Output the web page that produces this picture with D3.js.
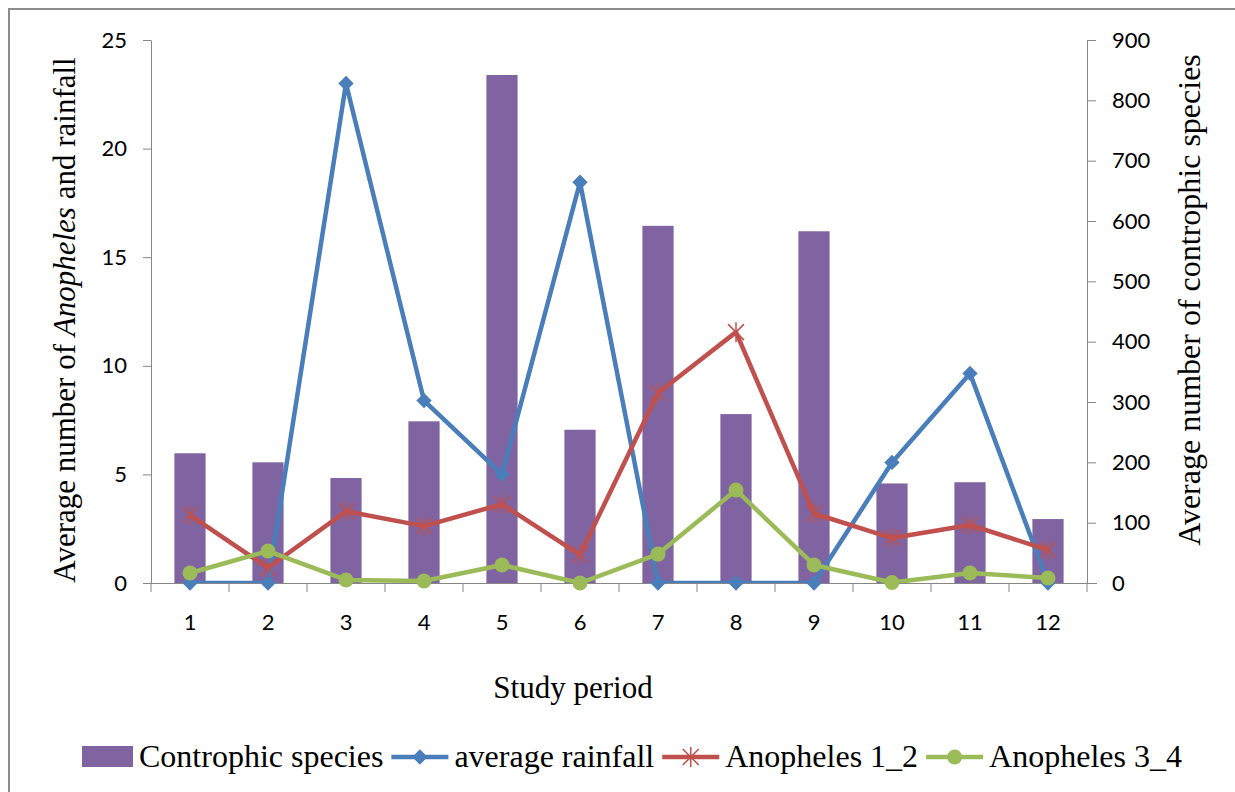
<!DOCTYPE html>
<html>
<head>
<meta charset="utf-8">
<script src="https://cdn.jsdelivr.net/npm/d3@7"></script>
<style>
  body { margin: 0; background: #fff; }
  svg { display: block; }
</style>
</head>
<body>
<script>
// study periods and series values
const periods = ["1", "2", "3", "4", "5", "6", "7", "8", "9", "10", "11", "12"];
const controphic = [215, 200, 174, 268, 842, 254, 592, 280, 583, 165, 167, 106];
const rainfall = [0, 0, 23.0, 8.4, 5.0, 18.45, 0, 0, 0, 5.55, 9.65, 0];
const anoph12 = [3.13, 0.7, 3.3, 2.62, 3.63, 1.3, 8.75, 11.55, 3.2, 2.07, 2.67, 1.52];
const anoph34 = [0.46, 1.47, 0.14, 0.09, 0.83, 0, 1.33, 4.28, 0.83, 0.02, 0.46, 0.23];
const leftTicks = [0, 5, 10, 15, 20, 25];
const rightTicks = [0, 100, 200, 300, 400, 500, 600, 700, 800, 900];

const W = 1235, H = 792;
const purple = "#8064a2", blue = "#4a7ebb", red = "#c0504d", green = "#9bbb59";
const axisCol = "#868686";
const sans = "Lato, 'Open Sans', sans-serif";
const serif = "Liberation Serif, Times New Roman, serif";

const svg = d3.select("body").append("svg")
    .attr("width", W)
    .attr("height", H);

// outer chart border
svg.append("rect")
    .attr("x", 9).attr("y", 9)
    .attr("width", W + 20).attr("height", H + 20)
    .attr("fill", "none")
    .attr("stroke", "#8c8c8c")
    .attr("stroke-width", 2);

const x = d3.scaleBand().domain(periods).range([151, 1087]);
const yL = d3.scaleLinear().domain([0, 25]).range([583, 40]);
const yR = d3.scaleLinear().domain([0, 900]).range([583, 40]);

svg.append("defs").append("clipPath").attr("id", "plot")
    .append("rect")
    .attr("x", x.range()[0]).attr("y", 0)
    .attr("width", x.range()[1] - x.range()[0])
    .attr("height", yL(0));

// bars on the right axis
const barW = x.bandwidth() * 0.4;
svg.append("g").selectAll("rect")
    .data(controphic)
    .enter()
    .append("rect")
    .attr("x", (d, i) => x(periods[i]) + (x.bandwidth() - barW) / 2)
    .attr("y", d => yR(d))
    .attr("width", barW)
    .attr("height", d => yR(0) - yR(d))
    .attr("fill", purple);

// axes
const gL = svg.append("g")
    .attr("transform", `translate(${x.range()[0]},0)`)
    .call(d3.axisLeft(yL).tickValues(leftTicks).tickSize(8).tickPadding(16).tickSizeOuter(0));
const gR = svg.append("g")
    .attr("transform", `translate(${x.range()[1]},0)`)
    .call(d3.axisRight(yR).tickValues(rightTicks).tickSize(9).tickPadding(16).tickSizeOuter(0));

const gX = svg.append("g")
    .attr("transform", `translate(0,${yL(0)})`)
    .call(d3.axisBottom(x).tickSize(0).tickPadding(31).tickSizeOuter(0));

// x boundary ticks
const bounds = periods.map(p => x(p)).concat([x.range()[1]]);
svg.append("g").selectAll("line")
    .data(bounds)
    .enter()
    .append("line")
    .attr("x1", d => d).attr("x2", d => d)
    .attr("y1", yL(0)).attr("y2", yL(0) + 9)
    .attr("stroke", axisCol);

[gL, gR, gX].forEach(g => {
    g.selectAll(".domain").attr("stroke", axisCol);
    g.selectAll(".tick line").attr("stroke", axisCol);
    g.selectAll("text")
        .attr("font-family", sans)
        .attr("font-size", 22)
        .attr("fill", "#000");
});
gX.select(".domain").attr("d", `M${x.range()[0]},0.5H${x.range()[1] + 10}`);

// line series
const line = d3.line()
    .x((d, i) => x(periods[i]) + x.bandwidth() / 2)
    .y(d => yL(d));

function addLine(vals, color) {
    svg.append("path")
        .datum(vals)
        .attr("d", line)
        .attr("fill", "none")
        .attr("stroke", color)
        .attr("stroke-width", 4.5)
        .attr("stroke-linejoin", "round")
        .attr("clip-path", "url(#plot)");
}

const cx = i => x(periods[i]) + x.bandwidth() / 2;
const diamond = d3.symbol(d3.symbolDiamond2, 150);

addLine(rainfall, blue);
svg.append("g").selectAll("path")
    .data(rainfall)
    .enter()
    .append("path")
    .attr("d", diamond)
    .attr("transform", (d, i) => `translate(${cx(i)},${yL(d)})`)
    .attr("fill", blue);

addLine(anoph12, red);
const star = "M-8,-8L8,8M-8,8L8,-8M0,-10L0,10";
svg.append("g").selectAll("path")
    .data(anoph12)
    .enter()
    .append("path")
    .attr("d", star)
    .attr("transform", (d, i) => `translate(${cx(i)},${yL(d)})`)
    .attr("stroke", red)
    .attr("stroke-width", 1.5)
    .attr("fill", "none");

addLine(anoph34, green);
svg.append("g").selectAll("circle")
    .data(anoph34)
    .enter()
    .append("circle")
    .attr("cx", (d, i) => cx(i))
    .attr("cy", d => yL(d))
    .attr("r", 7.5)
    .attr("fill", green);

// axis titles
const tl = svg.append("text")
    .attr("transform", "translate(75,320) rotate(-90)")
    .attr("text-anchor", "middle")
    .attr("font-family", serif)
    .attr("font-size", 31);
tl.append("tspan").text("Average number of ");
tl.append("tspan").attr("font-style", "italic").text("Anopheles");
tl.append("tspan").text(" and rainfall");

svg.append("text")
    .attr("transform", "translate(1200,300) rotate(-90)")
    .attr("text-anchor", "middle")
    .attr("font-family", serif)
    .attr("font-size", 32)
    .text("Average number of controphic species");

svg.append("text")
    .attr("x", 573).attr("y", 698)
    .attr("text-anchor", "middle")
    .attr("font-family", serif)
    .attr("font-size", 31)
    .text("Study period");

// legend
const legendItems = [
    { name: "Controphic species", color: purple, type: "bar" },
    { name: "average rainfall", color: blue, type: "diamond" },
    { name: "Anopheles 1_2", color: red, type: "star" },
    { name: "Anopheles 3_4", color: green, type: "circle" }
];
const lg = svg.append("g");
let lx = 82;
const ly = 757;
legendItems.forEach(it => {
    const g = lg.append("g");
    if (it.type === "bar") {
        g.append("rect").attr("x", lx).attr("y", ly - 11).attr("width", 51).attr("height", 21).attr("fill", it.color);
    } else {
        g.append("line").attr("x1", lx).attr("x2", lx + 57).attr("y1", ly).attr("y2", ly)
            .attr("stroke", it.color).attr("stroke-width", 4.5);
        const mx = lx + 28.5;
        if (it.type === "diamond") {
            g.append("path").attr("d", diamond)
                .attr("transform", `translate(${mx},${ly})`).attr("fill", it.color);
        } else if (it.type === "star") {
            g.append("path").attr("d", star).attr("transform", `translate(${mx},${ly})`)
                .attr("stroke", it.color).attr("stroke-width", 1.5);
        } else {
            g.append("circle").attr("cx", mx).attr("cy", ly).attr("r", 7.5).attr("fill", it.color);
        }
    }
    const tx = lx + (it.type === "bar" ? 57 : 63);
    const t = g.append("text")
        .attr("x", tx).attr("y", ly + 10)
        .attr("font-family", serif)
        .attr("font-size", 32)
        .text(it.name);
    lx = tx + t.node().getComputedTextLength() + 8;
});
</script>
</body>
</html>
